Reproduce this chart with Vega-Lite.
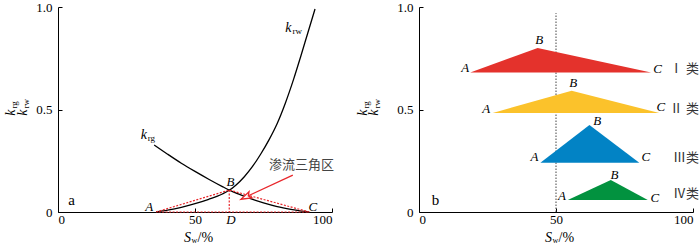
{
  "$schema": "https://vega.github.io/schema/vega-lite/v6.json",
  "background": "white",
  "padding": {"left": 3, "top": 1, "right": 0, "bottom": 0},
  "spacing": 87,
  "bounds": "flush",
  "config": {
    "view": {"stroke": null},
    "axis": {"grid": false, "domainColor": "#000", "domainWidth": 1, "tickColor": "#000", "tickWidth": 1, "tickSize": -4, "labelFont": "Liberation Serif", "labelFontSize": 13, "labelColor": "#000", "labelAngle": 0},
    "text": {"font": "Liberation Serif", "color": "#000"}
  },
  "hconcat": [
    {
      "width": 274,
      "height": 205,
      "encoding": {
        "x": {"field": "Sw", "type": "quantitative", "scale": {"domain": [0, 100], "nice": false, "zero": false}, "axis": {"values": [0, 50, 100], "title": null, "labelPadding": 5}},
        "y": {"field": "k", "type": "quantitative", "scale": {"domain": [0, 1], "nice": false, "zero": false}, "axis": {"values": [0, 0.5, 1], "title": null, "labelPadding": 10, "labelExpr": "datum.value == 0 ? '0' : format(datum.value, '.1f')"}}
      },
      "layer": [
        {
          "data": {"values": [
            {"Sw": 35.8, "k": 0}, {"Sw": 40, "k": 0.009}, {"Sw": 45, "k": 0.023}, {"Sw": 50, "k": 0.041}, {"Sw": 55, "k": 0.062}, {"Sw": 60, "k": 0.088}, {"Sw": 62.5, "k": 0.106}, {"Sw": 65, "k": 0.132}, {"Sw": 68, "k": 0.172}, {"Sw": 71, "k": 0.222}, {"Sw": 74, "k": 0.283}, {"Sw": 77, "k": 0.352}, {"Sw": 80, "k": 0.432}, {"Sw": 83, "k": 0.532}, {"Sw": 86, "k": 0.648}, {"Sw": 88.5, "k": 0.755}, {"Sw": 91, "k": 0.866}, {"Sw": 93.8, "k": 0.99}
          ]},
          "mark": {"type": "line", "color": "#000", "strokeWidth": 1.3, "interpolate": "monotone"}
        },
        {
          "data": {"values": [
            {"Sw": 35.1, "k": 0.327}, {"Sw": 40, "k": 0.282}, {"Sw": 45, "k": 0.238}, {"Sw": 50, "k": 0.198}, {"Sw": 55, "k": 0.16}, {"Sw": 60, "k": 0.124}, {"Sw": 62.5, "k": 0.107}, {"Sw": 66, "k": 0.087}, {"Sw": 70, "k": 0.066}, {"Sw": 75, "k": 0.044}, {"Sw": 80, "k": 0.026}, {"Sw": 85, "k": 0.0127}, {"Sw": 89, "k": 0.004}, {"Sw": 91.7, "k": 0}
          ]},
          "mark": {"type": "line", "color": "#000", "strokeWidth": 1.3, "interpolate": "monotone"}
        },
        {
          "data": {"values": [
            {"seg": "t", "o": 1, "Sw": 35.8, "k": 0}, {"seg": "t", "o": 2, "Sw": 62.5, "k": 0.107}, {"seg": "t", "o": 3, "Sw": 91.7, "k": 0}, {"seg": "t", "o": 4, "Sw": 35.8, "k": 0},
            {"seg": "d", "o": 1, "Sw": 62.5, "k": 0.107}, {"seg": "d", "o": 2, "Sw": 62.5, "k": 0}
          ]},
          "mark": {"type": "line", "color": "#E8262B", "strokeWidth": 1.2, "strokeDash": [2, 1.5]},
          "encoding": {"detail": {"field": "seg"}, "order": {"field": "o"}}
        },
        {
          "data": {"values": [{"o": 1, "Sw": 85.7, "k": 0.18}, {"o": 2, "Sw": 68.5, "k": 0.073}]},
          "mark": {"type": "line", "color": "#E8262B", "strokeWidth": 1.3},
          "encoding": {"order": {"field": "o"}}
        },
        {
          "data": {"values": [{"Sw": 68.5, "k": 0.073}]},
          "mark": {"type": "point", "shape": "M1,0L-1,-0.65L-0.55,0L-1,0.65Z", "filled": false, "fill": "white", "fillOpacity": 1, "stroke": "#E8262B", "strokeWidth": 1.3, "opacity": 1, "size": 110, "angle": 155}
        },
        {
          "data": {"values": [
            {"label": "A", "Sw": 33.3, "k": 0.023}, {"label": "B", "Sw": 62.9, "k": 0.148}, {"label": "C", "Sw": 93, "k": 0.023}, {"label": "D", "Sw": 63.1, "k": -0.039}
          ]},
          "mark": {"type": "text", "fontStyle": "italic", "fontSize": 13, "baseline": "middle", "align": "center"},
          "encoding": {"text": {"field": "label"}}
        },
        {
          "data": {"values": [{"label": "a", "Sw": 5, "k": 0.059}]},
          "mark": {"type": "text", "fontSize": 15, "baseline": "middle", "align": "center"},
          "encoding": {"text": {"field": "label"}}
        },
        {
          "data": {"values": [{"main": "k", "sub": "rw", "Sw": 84.1, "k": 0.896}, {"main": "k", "sub": "rg", "Sw": 31.3, "k": 0.376}]},
          "mark": {"type": "text", "fontStyle": "italic", "fontSize": 14, "baseline": "middle", "align": "center"},
          "encoding": {"text": {"field": "main"}}
        },
        {
          "data": {"values": [{"main": "k", "sub": "rw", "Sw": 84.1, "k": 0.896}, {"main": "k", "sub": "rg", "Sw": 31.3, "k": 0.376}]},
          "mark": {"type": "text", "fontSize": 9, "baseline": "middle", "align": "left", "dx": 4, "dy": 3},
          "encoding": {"text": {"field": "sub"}}
        },
        {
          "data": {"values": [{"label": "渗流三角区", "Sw": 88.9, "k": 0.229}]},
          "mark": {"type": "text", "font": "Noto Sans CJK SC", "fontSize": 13, "letterSpacing": 1, "color": "#444", "baseline": "middle", "align": "center"},
          "encoding": {"text": {"field": "label"}}
        },
        {
          "data": {"values": [{"main": "S", "sub": "w", "rest": "/%", "Sw": 47.3, "k": -0.128}]},
          "mark": {"type": "text", "fontStyle": "italic", "fontSize": 14, "baseline": "middle", "align": "center"},
          "encoding": {"text": {"field": "main"}}
        },
        {
          "data": {"values": [{"main": "S", "sub": "w", "rest": "/%", "Sw": 47.3, "k": -0.128}]},
          "mark": {"type": "text", "fontSize": 8, "baseline": "middle", "align": "left", "dx": 4, "dy": 3},
          "encoding": {"text": {"field": "sub"}}
        },
        {
          "data": {"values": [{"main": "S", "sub": "w", "rest": "/%", "Sw": 47.3, "k": -0.128}]},
          "mark": {"type": "text", "fontSize": 14, "baseline": "middle", "align": "left", "dx": 10},
          "encoding": {"text": {"field": "rest"}}
        },
        {
          "data": {"values": [{"main": "k", "sub": "rg", "Sw": -17.2, "k": 0.485}, {"main": "k", "sub": "rw", "Sw": -12.8, "k": 0.485}]},
          "mark": {"type": "text", "fontStyle": "italic", "fontSize": 14, "baseline": "middle", "align": "center", "angle": 270},
          "encoding": {"text": {"field": "main"}}
        },
        {
          "data": {"values": [{"main": "k", "sub": "rg", "Sw": -17.2, "k": 0.485}, {"main": "k", "sub": "rw", "Sw": -12.8, "k": 0.485}]},
          "mark": {"type": "text", "fontSize": 9, "baseline": "middle", "align": "left", "angle": 270, "dx": 4, "dy": 3},
          "encoding": {"text": {"field": "sub"}}
        }
      ]
    },
    {
      "width": 274,
      "height": 205,
      "encoding": {
        "x": {"field": "Sw", "type": "quantitative", "scale": {"domain": [0, 100], "nice": false, "zero": false}, "axis": {"values": [0, 50, 100], "title": null, "labelPadding": 5}},
        "y": {"field": "k", "type": "quantitative", "scale": {"domain": [0, 1], "nice": false, "zero": false}, "axis": {"values": [0, 0.5, 1], "title": null, "labelPadding": 10, "labelExpr": "datum.value == 0 ? '0' : format(datum.value, '.1f')"}}
      },
      "layer": [
        {
          "data": {"values": [{"Sw": 50, "k": 0, "k2": 0.97}]},
          "mark": {"type": "rule", "color": "#444", "strokeWidth": 1, "strokeDash": [1.5, 1.5]},
          "encoding": {"y2": {"field": "k2"}}
        },
        {
          "data": {"values": [
            {"cls": "Ⅰ", "Sw": 18.7, "k": 0.681, "base": 0.681}, {"cls": "Ⅰ", "Sw": 43.3, "k": 0.8, "base": 0.681}, {"cls": "Ⅰ", "Sw": 84.7, "k": 0.681, "base": 0.681},
            {"cls": "Ⅱ", "Sw": 26.9, "k": 0.483, "base": 0.483}, {"cls": "Ⅱ", "Sw": 55.7, "k": 0.592, "base": 0.483}, {"cls": "Ⅱ", "Sw": 87.7, "k": 0.483, "base": 0.483},
            {"cls": "Ⅲ", "Sw": 44.3, "k": 0.24, "base": 0.24}, {"cls": "Ⅲ", "Sw": 62.2, "k": 0.424, "base": 0.24}, {"cls": "Ⅲ", "Sw": 80.4, "k": 0.24, "base": 0.24},
            {"cls": "Ⅳ", "Sw": 54.3, "k": 0.058, "base": 0.058}, {"cls": "Ⅳ", "Sw": 70, "k": 0.156, "base": 0.058}, {"cls": "Ⅳ", "Sw": 83.5, "k": 0.058, "base": 0.058}
          ]},
          "mark": {"type": "area", "opacity": 1},
          "encoding": {
            "y2": {"field": "base"},
            "color": {"field": "cls", "type": "nominal", "legend": null, "scale": {"domain": ["Ⅰ", "Ⅱ", "Ⅲ", "Ⅳ"], "range": ["#E4322C", "#FBC22B", "#0283C5", "#02923F"]}}
          }
        },
        {
          "data": {"values": [
            {"label": "A", "Sw": 16.9, "k": 0.701}, {"label": "B", "Sw": 43.9, "k": 0.839}, {"label": "C", "Sw": 87.1, "k": 0.698},
            {"label": "A", "Sw": 24.5, "k": 0.502}, {"label": "B", "Sw": 56.3, "k": 0.628}, {"label": "C", "Sw": 88.3, "k": 0.514},
            {"label": "A", "Sw": 42.1, "k": 0.267}, {"label": "B", "Sw": 65.0, "k": 0.445}, {"label": "C", "Sw": 82.8, "k": 0.267},
            {"label": "A", "Sw": 52.2, "k": 0.08}, {"label": "B", "Sw": 71.3, "k": 0.18}, {"label": "C", "Sw": 86.1, "k": 0.07}
          ]},
          "mark": {"type": "text", "fontStyle": "italic", "fontSize": 13, "baseline": "middle", "align": "center"},
          "encoding": {"text": {"field": "label"}}
        },
        {
          "data": {"values": [
            {"label": "Ⅰ 类", "Sw": 102.2, "k": 0.696}, {"label": "Ⅱ 类", "Sw": 102.2, "k": 0.501}, {"label": "Ⅲ类", "Sw": 102.2, "k": 0.262}, {"label": "Ⅳ类", "Sw": 102.2, "k": 0.088}
          ]},
          "mark": {"type": "text", "font": "Liberation Serif, Noto Sans CJK SC", "fontSize": 13, "color": "#333", "baseline": "middle", "align": "right"},
          "encoding": {"text": {"field": "label"}}
        },
        {
          "data": {"values": [{"label": "b", "Sw": 6.0, "k": 0.059}]},
          "mark": {"type": "text", "fontSize": 15, "baseline": "middle", "align": "center"},
          "encoding": {"text": {"field": "label"}}
        },
        {
          "data": {"values": [{"main": "S", "sub": "w", "rest": "/%", "Sw": 47.3, "k": -0.128}]},
          "mark": {"type": "text", "fontStyle": "italic", "fontSize": 14, "baseline": "middle", "align": "center"},
          "encoding": {"text": {"field": "main"}}
        },
        {
          "data": {"values": [{"main": "S", "sub": "w", "rest": "/%", "Sw": 47.3, "k": -0.128}]},
          "mark": {"type": "text", "fontSize": 8, "baseline": "middle", "align": "left", "dx": 4, "dy": 3},
          "encoding": {"text": {"field": "sub"}}
        },
        {
          "data": {"values": [{"main": "S", "sub": "w", "rest": "/%", "Sw": 47.3, "k": -0.128}]},
          "mark": {"type": "text", "fontSize": 14, "baseline": "middle", "align": "left", "dx": 10},
          "encoding": {"text": {"field": "rest"}}
        },
        {
          "data": {"values": [{"main": "k", "sub": "rg", "Sw": -20.4, "k": 0.485}, {"main": "k", "sub": "rw", "Sw": -16.4, "k": 0.485}]},
          "mark": {"type": "text", "fontStyle": "italic", "fontSize": 14, "baseline": "middle", "align": "center", "angle": 270},
          "encoding": {"text": {"field": "main"}}
        },
        {
          "data": {"values": [{"main": "k", "sub": "rg", "Sw": -20.4, "k": 0.485}, {"main": "k", "sub": "rw", "Sw": -16.4, "k": 0.485}]},
          "mark": {"type": "text", "fontSize": 9, "baseline": "middle", "align": "left", "angle": 270, "dx": 4, "dy": 3},
          "encoding": {"text": {"field": "sub"}}
        }
      ]
    }
  ]
}
